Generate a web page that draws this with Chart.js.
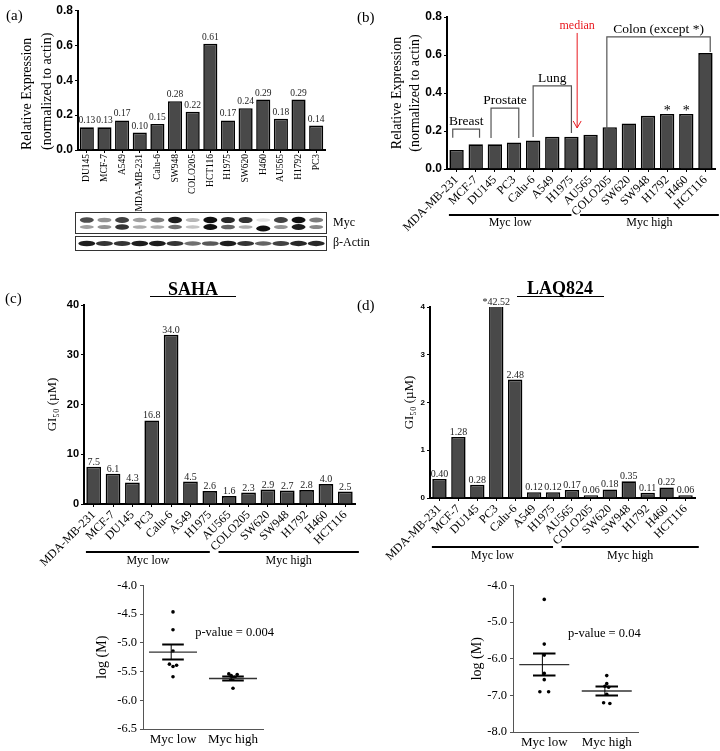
<!DOCTYPE html>
<html><head><meta charset="utf-8">
<script src="https://cdn.jsdelivr.net/npm/chart.js@4.4.1/dist/chart.umd.min.js"></script>
<style>
html,body{margin:0;padding:0;background:#fff;}
body{width:720px;height:751px;position:relative;overflow:hidden;}
canvas{position:absolute;}
.t{position:absolute;font-family:'Liberation Serif','Times New Roman',serif;color:#000;white-space:nowrap;line-height:1;}
.u{position:absolute;height:1px;background:#000;}
</style></head><body>
<canvas id="ca" style="left:0;top:0"></canvas>
<canvas id="cb" style="left:340px;top:0"></canvas>
<canvas id="cc" style="left:0;top:295px"></canvas>
<canvas id="cd" style="left:360px;top:295px"></canvas>
<canvas id="ce" style="left:60px;top:575px"></canvas>
<canvas id="cf" style="left:420px;top:575px"></canvas>
<div class="t" style="left:6px;top:8px;font-size:15px">(a)</div>
<div class="t" style="left:357px;top:10px;font-size:15px">(b)</div>
<div class="t" style="left:5px;top:291px;font-size:15px">(c)</div>
<div class="t" style="left:357px;top:298px;font-size:15px">(d)</div>
<div class="t" style="left:193px;top:280px;font-size:18px;font-weight:bold;transform:translateX(-50%)">SAHA</div>
<div class="u" style="left:150px;top:296px;width:86px"></div>
<div class="t" style="left:560px;top:279px;font-size:18px;font-weight:bold;transform:translateX(-50%)">LAQ824</div>
<div class="u" style="left:517px;top:296px;width:87px"></div>
<script>
// ---------------- data ----------------
const cellsA = ['DU145','MCF-7','A549','MDA-MB-231','Calu-6','SW948','COLO205','HCT116','H1975','SW620','H460','AU565','H1792','PC3'];
const mycA = [0.13,0.13,0.17,0.10,0.15,0.28,0.22,0.61,0.17,0.24,0.29,0.18,0.29,0.14];
const blotMycUpper = [0.75,0.45,0.8,0.4,0.55,0.95,0.3,1.0,0.9,0.85,0.12,0.8,1.0,0.55];
const blotMycLower = [0.4,0.45,0.85,0.35,0.35,0.6,0.25,1.0,0.65,0.35,1.0,0.45,0.95,0.5];
const blotActin = [0.95,0.85,0.85,0.95,0.95,0.85,0.6,0.7,0.95,0.85,0.65,0.8,0.9,0.9];

const cellsB = ['MDA-MB-231','MCF-7','DU145','PC3','Calu-6','A549','H1975','AU565','COLO205','SW620','SW948','H1792','H460','HCT116'];
const mycB = [0.10,0.13,0.13,0.14,0.15,0.17,0.17,0.18,0.22,0.24,0.28,0.29,0.29,0.61];

const cellsGI = ['MDA-MB-231','MCF-7','DU145','PC3','Calu-6','A549','H1975','AU565','COLO205','SW620','SW948','H1792','H460','HCT116'];
const sahaGI50 = [7.5,6.1,4.3,16.8,34.0,4.5,2.6,1.6,2.3,2.9,2.7,2.8,4.0,2.5];
const laqGI50 = [0.40,1.28,0.28,42.52,2.48,0.12,0.12,0.17,0.06,0.18,0.35,0.11,0.22,0.06];

const groupNames = ['Myc low','Myc high'];
const sahaLowLog = [-4.46,-4.77,-5.14,-5.37,-5.39,-5.41,-5.59];
const sahaLowX = [1,1,1,0.94,1.06,1.0,1];
const sahaHighLog = [-5.54,-5.55,-5.57,-5.6,-5.62,-5.63,-5.79];
const sahaHighX = [1.93,2.07,1.97,2.03,2.0,1.96,2.0];
const sahaMean = [-5.16,-5.62];
const sahaSem = [0.13,0.035];
const laqLowLog = [-4.38,-5.6,-5.9,-6.4,-6.57,-6.9,-6.9];
const laqLowX = [1,1,1,1,1,0.93,1.07];
const laqHighLog = [-6.46,-6.68,-6.75,-6.78,-6.97,-7.2,-7.22];
const laqHighX = [2,2,1.97,2.03,2,1.95,2.05];
const laqMean = [-6.16,-6.88];
const laqSem = [0.3,0.12];

// ---------------- helpers ----------------
Chart.defaults.color = '#000';
const SERIF = "'Liberation Serif','Times New Roman',serif";
const SANS = "'Liberation Sans',Arial,sans-serif";

const barValueLabels = {
  id:'barValueLabels',
  afterDatasetsDraw(chart, args, o){
    if(!o.labels) return;
    const ctx = chart.ctx, top = chart.chartArea.top;
    ctx.save(); ctx.font = o.font; ctx.fillStyle = '#222'; ctx.textAlign='center'; ctx.textBaseline='alphabetic';
    chart.getDatasetMeta(0).data.forEach((el,i)=>{
      ctx.fillText(o.labels[i], el.x, Math.max(el.y, top) - o.gap);
    });
    ctx.restore();
  }
};
const groupBars = {
  id:'groupBars',
  afterDraw(chart, args, o){
    if(!o.items) return;
    const xs = chart.scales.x, ctx = chart.ctx, y = chart.chartArea.bottom + o.offset;
    ctx.save(); ctx.strokeStyle='#000'; ctx.lineWidth=2; ctx.fillStyle='#000';
    ctx.font = o.font; ctx.textAlign='center'; ctx.textBaseline='middle';
    o.items.forEach(g=>{
      const x1 = xs.getPixelForValue(g.from), x2 = xs.getPixelForValue(g.to);
      ctx.beginPath(); ctx.moveTo(x1,y); ctx.lineTo(x2,y); ctx.stroke();
      ctx.fillText(g.label, (x1+x2)/2, y + o.textGap);
    });
    ctx.restore();
  }
};
const brackets = {
  id:'brackets',
  afterDatasetsDraw(chart, args, o){
    if(!o.items) return;
    const xs = chart.scales.x, ys = chart.scales.y, ctx = chart.ctx;
    ctx.save(); ctx.strokeStyle=o.color; ctx.lineWidth=1.2; ctx.font=o.font; ctx.fillStyle='#000';
    ctx.textAlign='center'; ctx.textBaseline='alphabetic';
    o.items.forEach(b=>{
      const x1 = xs.getPixelForValue(b.from), x2 = xs.getPixelForValue(b.to), yt = ys.getPixelForValue(b.top);
      ctx.beginPath(); ctx.moveTo(x1, ys.getPixelForValue(b.left)); ctx.lineTo(x1,yt); ctx.lineTo(x2,yt);
      ctx.lineTo(x2, ys.getPixelForValue(b.right)); ctx.stroke();
      ctx.fillText(b.label, (x1+x2)/2, yt-4);
    });
    ctx.font = o.starFont;
    (o.stars||[]).forEach(s=>ctx.fillText('*', xs.getPixelForValue(s.index), ys.getPixelForValue(s.at)+9));
    if(o.arrow){
      const a=o.arrow, x=xs.getPixelForValue(a.x), y1=ys.getPixelForValue(a.from), y2=ys.getPixelForValue(a.to);
      ctx.strokeStyle=a.color; ctx.fillStyle=a.color; ctx.lineWidth=1;
      ctx.beginPath(); ctx.moveTo(x,y1); ctx.lineTo(x,y2); ctx.moveTo(x-4,y2-7); ctx.lineTo(x,y2); ctx.lineTo(x+4,y2-7); ctx.stroke();
      ctx.font=a.font; ctx.fillText(a.label, x, ys.getPixelForValue(a.textAt));
    }
    ctx.restore();
  }
};
const blotPlugin = {
  id:'blot',
  afterDraw(chart, args, o){
    if(!o.upper) return;
    const xs = chart.scales.x, ctx = chart.ctx, ca = chart.chartArea, b = ca.bottom;
    ctx.save();
    ctx.strokeStyle='#333'; ctx.lineWidth=1;
    ctx.strokeRect(ca.left-2.5, b+62.5, ca.right-ca.left+4, 21);
    ctx.strokeRect(ca.left-2.5, b+86.5, ca.right-ca.left+4, 14);
    ctx.filter='blur(0.7px)';
    ctx.fillStyle='#111';
    o.upper.forEach((v,i)=>{
      const x = xs.getPixelForValue(i);
      ctx.globalAlpha = v;
      ctx.beginPath(); ctx.ellipse(x, b+70, 7, 1.5+1.8*v, 0, 0, Math.PI*2); ctx.fill();
      const lv = o.lower[i];
      ctx.globalAlpha = lv;
      ctx.beginPath(); ctx.ellipse(x, b+77 + (o.upper[i]<0.2?1.5:0), 7, 1.2+1.8*lv, 0, 0, Math.PI*2); ctx.fill();
      const av = o.actin[i];
      ctx.globalAlpha = av;
      ctx.beginPath(); ctx.ellipse(x, b+93.5, 8.5, 1.2+1.6*av, 0, 0, Math.PI*2); ctx.fill();
    });
    ctx.filter='none'; ctx.globalAlpha=1;
    ctx.fillStyle='#000'; ctx.font="12px "+SERIF; ctx.textAlign='left'; ctx.textBaseline='middle';
    ctx.fillText('Myc', ca.right+8, b+73);
    ctx.fillText('\u03B2-Actin', ca.right+8, b+93);
    ctx.restore();
  }
};
const meanSem = {
  id:'meanSem',
  afterDatasetsDraw(chart, args, o){
    if(!o.means) return;
    const xs = chart.scales.x, ys = chart.scales.y, ctx = chart.ctx;
    ctx.save();
    o.means.forEach((m,i)=>{
      const c = i+1, s = o.sems[i];
      const px = v=>xs.getPixelForValue(v), py = v=>ys.getPixelForValue(v);
      ctx.strokeStyle='#333'; ctx.lineWidth=1.4;
      ctx.beginPath(); ctx.moveTo(px(c-0.4),py(m)); ctx.lineTo(px(c+0.4),py(m)); ctx.stroke();
      ctx.strokeStyle='#000'; ctx.lineWidth=1;
      ctx.beginPath(); ctx.moveTo(px(c-0.03),py(m-s)); ctx.lineTo(px(c-0.03),py(m+s)); ctx.stroke();
      ctx.lineWidth=2;
      ctx.beginPath(); ctx.moveTo(px(c-0.18),py(m+s)); ctx.lineTo(px(c+0.18),py(m+s));
      ctx.moveTo(px(c-0.18),py(m-s)); ctx.lineTo(px(c+0.18),py(m-s)); ctx.stroke();
    });
    if(o.pText){
      ctx.fillStyle='#000'; ctx.font=o.font; ctx.textAlign='left'; ctx.textBaseline='middle';
      ctx.fillText(o.pText, xs.getPixelForValue(o.pX), ys.getPixelForValue(o.pY));
    }
    ctx.restore();
  }
};

function makeBar(id, p){
  const el = document.getElementById(id);
  el.width = p.w; el.height = p.h; el.style.width = p.w+'px'; el.style.height = p.h+'px';
  return new Chart(el, {
    type:'bar',
    data:{ labels:p.labels, datasets:[{ data:p.values, backgroundColor:'#494949', borderColor:'#000',
      borderWidth:1.6, barPercentage:p.barPct, categoryPercentage:1 }]},
    options:{
      responsive:false, animation:false, devicePixelRatio:1,
      layout:{ padding:{left:0, top:p.top, right:p.right, bottom:0} },
      plugins:{ legend:{display:false}, tooltip:{enabled:false},
        barValueLabels: p.valueLabels || {}, groupBars: p.groups || {}, brackets: p.brackets || {}, blot: p.blot || {} },
      scales:{
        x:{ offset:true,
          grid:{ drawOnChartArea:false, drawTicks:true, tickLength:3, color:'#000', offset:false },
          border:{ display:true, color:'#000', width:2 },
          ticks:{ autoSkip:false, minRotation:p.rot, maxRotation:p.rot, padding:1, font:{family:SERIF, size:p.xFont} },
          afterFit:s=>{ s.height = p.xH; } },
        y:{ min:0, max:p.yMax,
          ticks:{ stepSize:p.step, padding:2, font:{family:SANS, size:p.yFont, weight:'bold'}, callback:p.fmt },
          grid:{ drawOnChartArea:false, drawTicks:true, tickLength:3, color:'#000' },
          border:{ display:true, color:'#000', width:2 },
          title:{ display:true, text:p.title, align:p.titleAlign || 'center',
            font:{family:SERIF, size:p.titleSize, lineHeight:p.titleLH}, padding:{top:p.titlePad, bottom:0} },
          afterFit:s=>{ s.width = p.yW; } }
      }
    },
    plugins:[barValueLabels, groupBars, brackets, blotPlugin]
  });
}

function makeScatter(id, p){
  const el = document.getElementById(id);
  el.width = p.w; el.height = p.h; el.style.width = p.w+'px'; el.style.height = p.h+'px';
  const pts = (xs, ys)=>ys.map((y,i)=>({x:xs[i], y}));
  return new Chart(el, {
    type:'scatter',
    data:{ datasets:[
      { data:pts(p.lowX,p.lowY), pointRadius:1.8, backgroundColor:'#000', borderColor:'#000', borderWidth:0 },
      { data:pts(p.highX,p.highY), pointRadius:1.8, backgroundColor:'#000', borderColor:'#000', borderWidth:0 } ]},
    options:{
      responsive:false, animation:false, devicePixelRatio:1,
      layout:{ padding:{left:0, top:p.top, right:p.right, bottom:0} },
      plugins:{ legend:{display:false}, tooltip:{enabled:false}, meanSem:p.meanSem },
      scales:{
        x:{ type:'linear', min:0.5, max:2.5,
          afterBuildTicks:s=>{ s.ticks = groupNames.map((n,i)=>({value:i+1})); },
          ticks:{ maxRotation:0, padding:3, font:{family:SERIF, size:13}, callback:v=>groupNames[v-1] },
          grid:{ display:false, drawTicks:false },
          border:{ display:true, color:'#555', width:1 },
          afterFit:s=>{ s.height = p.xH; } },
        y:{ min:p.yMin, max:p.yMax,
          ticks:{ stepSize:p.step, padding:3, font:{family:SERIF, size:12.5}, callback:v=>v.toFixed(1) },
          grid:{ drawOnChartArea:false, drawTicks:true, tickLength:3, color:'#555' },
          border:{ display:true, color:'#555', width:1 },
          title:{ display:true, text:'log (M)', font:{family:SERIF, size:14, lineHeight:1.2}, padding:{top:p.titlePad, bottom:0} },
          afterFit:s=>{ s.width = p.yW; } }
      }
    },
    plugins:[meanSem]
  });
}

const groupItems = [
  {label:groupNames[0], from:-0.4, to:6.0},
  {label:groupNames[1], from:6.45, to:13.7}
];

// (a)
makeBar('ca', { w:380, h:260, top:10.7, right:55, yW:78, xH:110,
  labels:cellsA, values:mycA, barPct:0.8, rot:90, xFont:9.5, yMax:0.8, step:0.2, yFont:12,
  fmt:v=>v.toFixed(1), title:['Relative Expression','(normalized to actin)'], titleAlign:'start', titleSize:14, titleLH:1.4, titlePad:18,
  valueLabels:{ labels:mycA.map(v=>v.toFixed(2)), font:'9.5px '+SERIF, gap:4 },
  blot:{ upper:blotMycUpper, lower:blotMycLower, actin:blotActin } });

// (b)
makeBar('cb', { w:380, h:235, top:17, right:5, yW:107, xH:66,
  labels:cellsB, values:mycB, barPct:0.75, rot:45, xFont:12, yMax:0.8, step:0.2, yFont:12,
  fmt:v=>v.toFixed(1), title:['Relative Expression','(normalized to actin)'], titleSize:14, titleLH:1.3, titlePad:48,
  groups:{ items:groupItems, offset:46, textGap:8, font:'12px '+SERIF },
  brackets:{ color:'#555', font:'13.5px '+SERIF, starFont:'14px '+SERIF,
    items:[
      {label:'Breast', from:-0.2, to:1.2, top:0.21, left:0.165, right:0.165},
      {label:'Prostate', from:1.8, to:3.25, top:0.32, left:0.163, right:0.163},
      {label:'Lung', from:4, to:6, top:0.437, left:0.168, right:0.19},
      {label:'Colon (except *)', from:7.85, to:13.25, top:0.695, left:0.205, right:0.616}
    ],
    stars:[{index:11, at:0.33},{index:12, at:0.33}],
    arrow:{ x:6.3, from:0.716, to:0.216, textAt:0.737, label:'median', color:'#e8191f', font:'12px '+SERIF } } });

// (c)
makeBar('cc', { w:370, h:275, top:10, right:15, yW:84, xH:66,
  labels:cellsGI, values:sahaGI50, barPct:0.76, rot:45, xFont:12, yMax:40, step:10, yFont:11,
  fmt:v=>String(v), title:'GI\u2085\u2080 (\u00B5M)', titleSize:13, titleLH:1.2, titlePad:45,
  valueLabels:{ labels:sahaGI50.map(v=>v.toFixed(1)), font:'10px '+SERIF, gap:2 },
  groups:{ items:groupItems, offset:48, textGap:9, font:'12px '+SERIF } });

// (d)
const laqMax = 4;
makeBar('cd', { w:360, h:275, top:12, right:25, yW:70, xH:72,
  labels:cellsGI, values:laqGI50, barPct:0.76, rot:45, xFont:12, yMax:laqMax, step:1, yFont:8,
  fmt:v=>String(v), title:'GI\u2085\u2080 (\u00B5M)', titleSize:13, titleLH:1.2, titlePad:42,
  valueLabels:{ labels:laqGI50.map(v=>(v>laqMax?'*':'')+v.toFixed(2)), font:'10px '+SERIF, gap:2 },
  groups:{ items:groupItems, offset:49, textGap:9, font:'12px '+SERIF } });

// (e)
makeScatter('ce', { w:230, h:176, top:10, right:27, yW:83, xH:22, titlePad:33.6,
  yMin:-6.5, yMax:-4.0, step:0.5,
  lowX:sahaLowX, lowY:sahaLowLog, highX:sahaHighX, highY:sahaHighLog,
  meanSem:{ means:sahaMean, sems:sahaSem, pText:'p-value = 0.004', pX:1.37, pY:-4.82, font:'12.5px '+SERIF } });

// (f)
makeScatter('cf', { w:240, h:176, top:8, right:22, yW:93, xH:19, titlePad:48.6,
  yMin:-8.0, yMax:-4.0, step:1,
  lowX:laqLowX, lowY:laqLowLog, highX:laqHighX, highY:laqHighLog,
  meanSem:{ means:laqMean, sems:laqSem, pText:'p-value = 0.04', pX:1.38, pY:-5.32, font:'12.5px '+SERIF } });
</script>
</body></html>
